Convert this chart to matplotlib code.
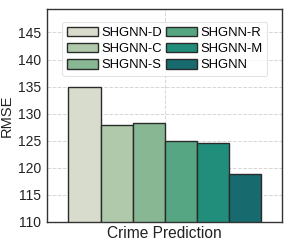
import numpy as np
import matplotlib.pyplot as plt

plt.rcParams['font.family'] = ['Liberation Sans', 'DejaVu Sans']

methods = ["SHGNN-D", "SHGNN-C", "SHGNN-S", "SHGNN-R", "SHGNN-M", "SHGNN"]
rmse = [135.0, 127.9, 128.2, 124.9, 124.5, 118.8]
colors = ["#d8dccc", "#b1c9ab", "#88b793", "#56a583", "#218e7b", "#176a6e"]

fig = plt.figure(figsize=(2.91, 2.48), dpi=100)
ax = fig.add_axes([0.162, 0.105, 0.807, 0.858])

w = 0.135
offsets = (np.arange(len(methods)) - (len(methods) - 1) / 2) * w
for off, val, c, name in zip(offsets, rmse, colors, methods):
    ax.bar(off, val - 110, width=w, bottom=110, color=c, edgecolor="#2b2b2b",
           linewidth=1.0, label=name, zorder=3)

ax.set_xlim(-0.495, 0.495)
ax.set_ylim(110, 149.3)
ax.set_yticks(np.arange(110, 146, 5))
ax.set_xticks([0])
ax.set_xticklabels(["Crime Prediction"], fontsize=11.2)
ax.tick_params(axis="y", labelsize=10, length=0, pad=4.5, colors="#222222")
ax.tick_params(axis="x", length=0, pad=3, colors="#222222")
ax.set_ylabel("RMSE", fontsize=10.5, labelpad=3, color="#222222")

ax.grid(True, linestyle="--", color="#d6d6d6", linewidth=0.7, zorder=0)
for s in ax.spines.values():
    s.set_color("#333333")
    s.set_linewidth(1.0)

leg = ax.legend(ncol=2, loc="upper center", bbox_to_anchor=(0.5, 0.97),
                fontsize=9.4, frameon=True, handlelength=2.4, handleheight=0.75,
                columnspacing=0.3, handletextpad=0.25, labelspacing=0.3,
                borderpad=0.35, fancybox=True)
leg.get_frame().set_edgecolor("#dddddd")
leg.get_frame().set_linewidth(0.8)

fig.savefig("out.png", dpi=100)
